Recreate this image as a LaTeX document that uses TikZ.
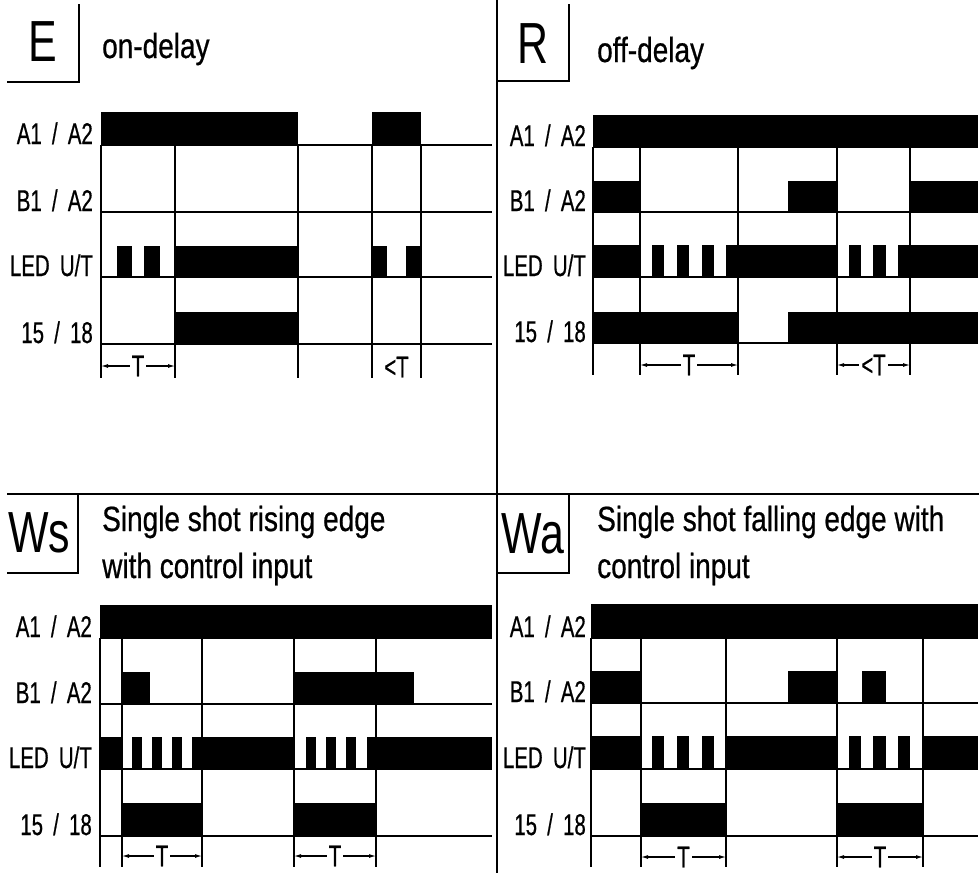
\documentclass[tikz,border=0pt]{standalone}
\usepackage{fontspec}
\setmainfont[FakeStretch=0.8,FakeBold=0.6]{Liberation Sans}
\newfontfamily\sigfont[FakeStretch=0.68,FakeBold=0.6,WordSpace=1.8]{Liberation Sans}
\newfontfamily\modefont[FakeStretch=0.74]{Liberation Sans}
\usetikzlibrary{arrows.meta}

\tikzset{
  sig/.style={fill=black},
  base/.style={line width=1.3pt},
  boxline/.style={line width=1.6pt},
  lbl/.style={anchor=base east, inner sep=0pt, font=\sigfont\fontsize{30}{30}\selectfont},
  head/.style={anchor=base west, inner sep=0pt, align=left, font=\fontsize{35}{47}\selectfont},
  modeletter/.style={inner sep=0pt, font=\modefont\fontsize{58}{58}\selectfont},
  dimline/.style={line width=1.1pt, {Latex[length=7pt,width=4pt]}-{Latex[length=7pt,width=4pt]}},
  dimtxt/.style={fill=white, inner sep=2pt, font=\sigfont\fontsize{30}{30}\selectfont}
}

\begin{document}
\begin{tikzpicture}[x=1pt,y=-1pt]
    \useasboundingbox (0,0) rectangle (979,873);
    % frame
    \draw [boxline] (497,0) -- (497,873);
    \draw [boxline] (7,494) -- (979,494);

    % ===== E
    \draw [boxline] (7,82) -- (79,82) -- (79,4);
    \node [modeletter, anchor=base] (eMode) at (43,61) {E};
    \node [head] (eHead) at (102,58) {on-delay};
    % label
    \node [lbl] (eA) at (93,144) {A1 / A2};
    \node [lbl] (eB) at (93,211) {B1 / A2};
    \node [lbl] (eL) at (93,276) {LED U/T};
    \node [lbl] (eQ) at (93,343) {15 / 18};
    % A1/A2
    \fill [sig] (101,112) rectangle (298,145);
    \fill [sig] (372,112) rectangle (421,145);
    % LED
    \fill [sig] (117,246) rectangle (132,277);
    \fill [sig] (144,246) rectangle (160,277);
    \fill [sig] (175,246) rectangle (298,277);
    \fill [sig] (372,246) rectangle (387,277);
    \fill [sig] (406,246) rectangle (421,277);
    % 15/18
    \fill [sig] (175,312) rectangle (298,344);
    % lines
    \draw [base] (101,145) -- (492,145);
    \draw [base] (101,212) -- (492,212);
    \draw [base] (101,277) -- (492,277);
    \draw [base] (101,344) -- (492,344);
    % |
    \draw [base] (101,145) -- (101,378);
    \draw [base] (175,145) -- (175,378);
    \draw [base] (298,145) -- (298,378);
    \draw [base] (372,145) -- (372,378);
    \draw [base] (421,145) -- (421,378);
    % T
    \draw [dimline] (101,366) -- node [dimtxt] (eT) {T} (175,366);
    \node [dimtxt] (eLessT) at (396.5,367) {<T};

    % ===== R
    \draw [boxline] (497,81) -- (569,81) -- (569,4);
    \node [modeletter, anchor=base] (rMode) at (533,63) {R};
    \node [head] (rHead) at (597,62) {off-delay};
    % label
    \node [lbl] (rA) at (586,146) {A1 / A2};
    \node [lbl] (rB) at (586,211) {B1 / A2};
    \node [lbl] (rL) at (586,276) {LED U/T};
    \node [lbl] (rQ) at (586,342) {15 / 18};
    % A1/A2
    \fill [sig] (593,115) rectangle (978,147);
    % B1/A2
    \fill [sig] (593,181) rectangle (640,212);
    \fill [sig] (788,181) rectangle (837,212);
    \fill [sig] (910,181) rectangle (978,212);
    % LED
    \fill [sig] (593,245) rectangle (640,277);
    \fill [sig] (652,245) rectangle (664,277);
    \fill [sig] (677,245) rectangle (689,277);
    \fill [sig] (702,245) rectangle (714,277);
    \fill [sig] (726,245) rectangle (837,277);
    \fill [sig] (849,245) rectangle (861,277);
    \fill [sig] (873,245) rectangle (886,277);
    \fill [sig] (898,245) rectangle (978,277);
    % 15/18
    \fill [sig] (593,312) rectangle (738,343);
    \fill [sig] (788,312) rectangle (978,343);
    % lines
    \draw [base] (593,147) -- (978,147);
    \draw [base] (593,212) -- (978,212);
    \draw [base] (593,277) -- (978,277);
    \draw [base] (593,343) -- (978,343);
    % |
    \draw [base] (593,147) -- (593,375);
    \draw [base] (640,147) -- (640,375);
    \draw [base] (738,147) -- (738,375);
    \draw [base] (837,147) -- (837,375);
    \draw [base] (910,147) -- (910,375);
    % T
    \draw [dimline] (640,365) -- node [dimtxt] (rT) {T} (738,365);
    \draw [dimline] (837,365) -- node [dimtxt] (rLessT) {<T} (910,365);

    % ===== Ws
    \draw [boxline] (7,573) -- (78,573) -- (78,494);
    \node [modeletter, anchor=base west] (wsMode) at (8,552) {Ws};
    \node [head] (wsHead) at (102,578) {Single shot rising edge\\with control input};
    % label
    \node [lbl] (wsA) at (92,637) {A1 / A2};
    \node [lbl] (wsB) at (92,703) {B1 / A2};
    \node [lbl] (wsL) at (92,768) {LED U/T};
    \node [lbl] (wsQ) at (92,835) {15 / 18};
    % A1/A2
    \fill [sig] (100,605) rectangle (492,638);
    % B1/A2
    \fill [sig] (122,672) rectangle (150,704);
    \fill [sig] (294,672) rectangle (414,704);
    % LED
    \fill [sig] (100,737) rectangle (122,769);
    \fill [sig] (132,737) rectangle (142,769);
    \fill [sig] (152,737) rectangle (162,769);
    \fill [sig] (172,737) rectangle (182,769);
    \fill [sig] (192,737) rectangle (294,769);
    \fill [sig] (306,737) rectangle (316,769);
    \fill [sig] (326,737) rectangle (336,769);
    \fill [sig] (346,737) rectangle (356,769);
    \fill [sig] (367,737) rectangle (492,769);
    % 15/18
    \fill [sig] (122,803) rectangle (202,836);
    \fill [sig] (294,803) rectangle (376,836);
    % lines
    \draw [base] (100,638) -- (492,638);
    \draw [base] (100,704) -- (492,704);
    \draw [base] (100,769) -- (492,769);
    \draw [base] (100,836) -- (492,836);
    % |
    \draw [base] (100,638) -- (100,867);
    \draw [base] (122,638) -- (122,867);
    \draw [base] (202,638) -- (202,867);
    \draw [base] (294,638) -- (294,867);
    \draw [base] (376,638) -- (376,867);
    % T
    \draw [dimline] (122,856) -- node [dimtxt] (wsT) {T} (202,856);
    \draw [dimline] (294,856) -- node [dimtxt] (wsTB) {T} (376,856);

    % ===== Wa
    \draw [boxline] (497,573) -- (569,573) -- (569,494);
    \node [modeletter, anchor=base west] (waMode) at (501,553) {Wa};
    \node [head] (waHead) at (597,578) {Single shot falling edge with\\control input};
    % label
    \node [lbl] (waA) at (586,637) {A1 / A2};
    \node [lbl] (waB) at (586,702) {B1 / A2};
    \node [lbl] (waL) at (586,768) {LED U/T};
    \node [lbl] (waQ) at (586,835) {15 / 18};
    % A1/A2
    \fill [sig] (591,604) rectangle (978,638);
    % B1/A2
    \fill [sig] (591,671) rectangle (641,703);
    \fill [sig] (788,671) rectangle (837,703);
    \fill [sig] (862,671) rectangle (886,703);
    % LED
    \fill [sig] (591,736) rectangle (641,769);
    \fill [sig] (652,736) rectangle (664,769);
    \fill [sig] (677,736) rectangle (689,769);
    \fill [sig] (702,736) rectangle (714,769);
    \fill [sig] (726,736) rectangle (837,769);
    \fill [sig] (849,736) rectangle (861,769);
    \fill [sig] (873,736) rectangle (886,769);
    \fill [sig] (898,736) rectangle (910,769);
    \fill [sig] (923,736) rectangle (978,769);
    % 15/18
    \fill [sig] (641,803) rectangle (726,836);
    \fill [sig] (837,803) rectangle (923,836);
    % lines
    \draw [base] (591,638) -- (978,638);
    \draw [base] (591,703) -- (978,703);
    \draw [base] (591,769) -- (978,769);
    \draw [base] (591,836) -- (978,836);
    % |
    \draw [base] (591,638) -- (591,867);
    \draw [base] (641,638) -- (641,867);
    \draw [base] (726,638) -- (726,867);
    \draw [base] (837,638) -- (837,867);
    \draw [base] (923,638) -- (923,867);
    % T
    \draw [dimline] (641,857) -- node [dimtxt] (waT) {T} (726,857);
    \draw [dimline] (837,857) -- node [dimtxt] (waTB) {T} (923,857);
\end{tikzpicture}
\end{document}
